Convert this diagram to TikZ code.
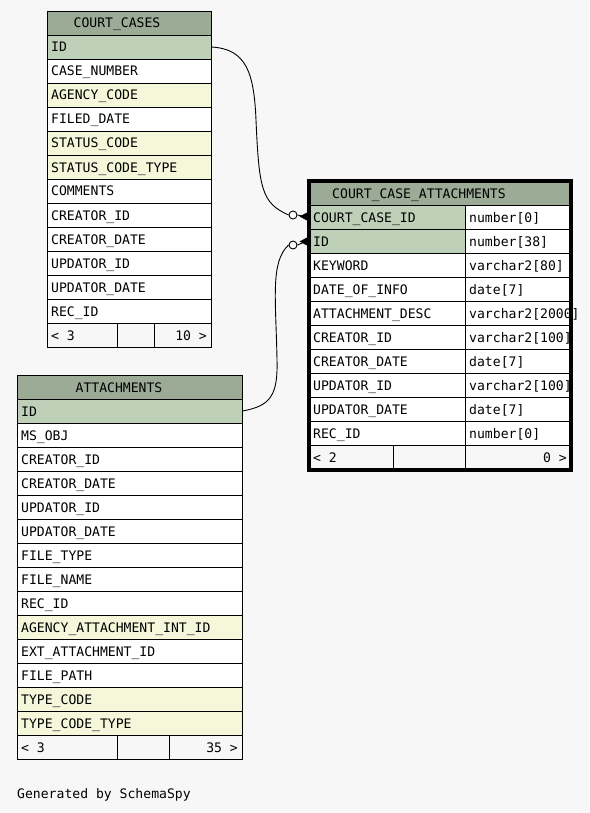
\documentclass[tikz,border=0pt]{standalone}
\usepackage{fontspec}
\setmonofont{DejaVu Sans Mono}
\definecolor{bg}{RGB}{247,247,247}
\definecolor{hdr}{RGB}{156,171,150}
\definecolor{keyc}{RGB}{190,209,184}
\definecolor{yel}{RGB}{244,247,218}
\begin{document}
\begin{tikzpicture}[x=1pt,y=-1pt,
  txt/.style={anchor=base west,inner sep=0pt,font=\ttfamily\fontsize{13.1}{14}\selectfont},
  rtxt/.style={anchor=base east,inner sep=0pt,font=\ttfamily\fontsize{13.1}{14}\selectfont},
  htxt/.style={anchor=base,inner sep=0pt,font=\ttfamily\fontsize{13.1}{14}\selectfont},
  cell/.style={draw=black,line width=1pt},
  conn/.style={draw=black,line width=0.9pt},
  ring/.style={circle,draw=black,fill=white,line width=0.9pt,minimum size=8pt,inner sep=0pt}]
\fill[bg] (0,0) rectangle (589,813);
\useasboundingbox (0,0) rectangle (589,813);
% ---------- COURT_CASES ----------
\draw[cell,fill=hdr] (47.5,11.5) rectangle (211.5,35.5);
\node[htxt] (cchdr) at (117,28) {COURT\_CASES};
\foreach \t/\c [count=\i from 0] in {ID/keyc,CASE\_NUMBER/white,AGENCY\_CODE/yel,FILED\_DATE/white,STATUS\_CODE/yel,STATUS\_CODE\_TYPE/yel,COMMENTS/white,CREATOR\_ID/white,CREATOR\_DATE/white,UPDATOR\_ID/white,UPDATOR\_DATE/white,REC\_ID/white}{
  \draw[cell,fill=\c] (47.5,35.5+24*\i) rectangle (211.5,59.5+24*\i);
  \node[txt] (cc\i) at (51,52+24*\i) {\t};
}
\draw[cell,fill=bg] (47.5,323.5) rectangle (211.5,347.5);
\draw[cell] (117.5,323.5) -- (117.5,347.5) (154.5,323.5) -- (154.5,347.5);
\node[txt] (ccfl) at (51,340) {< 3};
\node[rtxt] (ccfr) at (207,340) {10 >};
% ---------- ATTACHMENTS ----------
\draw[cell,fill=hdr] (17.5,375.5) rectangle (242.5,399.5);
\node[htxt] (athdr) at (119,392) {ATTACHMENTS};
\foreach \t/\c [count=\i from 0] in {ID/keyc,MS\_OBJ/white,CREATOR\_ID/white,CREATOR\_DATE/white,UPDATOR\_ID/white,UPDATOR\_DATE/white,FILE\_TYPE/white,FILE\_NAME/white,REC\_ID/white,AGENCY\_ATTACHMENT\_INT\_ID/yel,EXT\_ATTACHMENT\_ID/white,FILE\_PATH/white,TYPE\_CODE/yel,TYPE\_CODE\_TYPE/yel}{
  \draw[cell,fill=\c] (17.5,399.5+24*\i) rectangle (242.5,423.5+24*\i);
  \node[txt] (at\i) at (21,416+24*\i) {\t};
}
\draw[cell,fill=bg] (17.5,735.5) rectangle (242.5,759.5);
\draw[cell] (117.5,735.5) -- (117.5,759.5) (169.5,735.5) -- (169.5,759.5);
\node[txt] (atfl) at (21,752) {< 3};
\node[rtxt] (atfr) at (238,752) {35 >};
% ---------- COURT_CASE_ATTACHMENTS ----------
\draw[cell,fill=hdr] (309.5,181.5) rectangle (570.5,205.5);
\node[htxt] (ccahdr) at (419,198) {COURT\_CASE\_ATTACHMENTS};
\foreach \t/\ty/\c [count=\i from 0] in {COURT\_CASE\_ID/number[0]/keyc,ID/number[38]/keyc,KEYWORD/varchar2[80]/white,DATE\_OF\_INFO/date[7]/white,ATTACHMENT\_DESC//white,CREATOR\_ID/varchar2[100]/white,CREATOR\_DATE/date[7]/white,UPDATOR\_ID/varchar2[100]/white,UPDATOR\_DATE/date[7]/white,REC\_ID/number[0]/white}{
  \draw[cell,fill=\c] (309.5,205.5+24*\i) rectangle (465.5,229.5+24*\i);
  \draw[cell,fill=white] (465.5,205.5+24*\i) rectangle (570.5,229.5+24*\i);
  \node[txt] (ca\i) at (313,222+24*\i) {\t};
  \node[txt] (ct\i) at (469,222+24*\i) {\ty};
}
\draw[cell,fill=bg] (309.5,445.5) rectangle (570.5,469.5);
\draw[cell] (393.5,445.5) -- (393.5,469.5) (465.5,445.5) -- (465.5,469.5);
\node[txt] (cafl) at (313,462) {< 2};
\node[rtxt] (cafr) at (567,462) {0 >};
\draw[line width=3.6pt] (309,180.8) rectangle (570.8,469.8);
\node[txt] (ctlong) at (469,318) {varchar2[2000]};
% ---------- connectors ----------
\coordinate (ccidE) at (211.5,47);
\coordinate (atidE) at (242.5,411);
\node[ring] (r1) at (293,215) {};
\node[ring] (r2) at (293,245) {};
\coordinate (cca1) at (307,217);
\coordinate (cca2) at (307,241);
\draw[conn] (ccidE) .. controls (246,49) and (254,72) .. (256,120)
  .. controls (259,190) and (262,203) .. (r1.west);
\draw[conn] (atidE) .. controls (270,406) and (278,396) .. (277,360)
  .. controls (276,300) and (270,262) .. (r2.west);
\draw[conn] (r1.east) -- (cca1);
\draw[conn] (r2.east) -- (cca2);
\fill[black] (299.5,216.5) -- (307,212.5) -- (307,220.5) -- cycle;
\fill[black] (299.5,241.5) -- (307,237.5) -- (307,245.5) -- cycle;
% ---------- footer ----------
\node[txt] (gen) at (17,798) {Generated by SchemaSpy};
\end{tikzpicture}
\end{document}
